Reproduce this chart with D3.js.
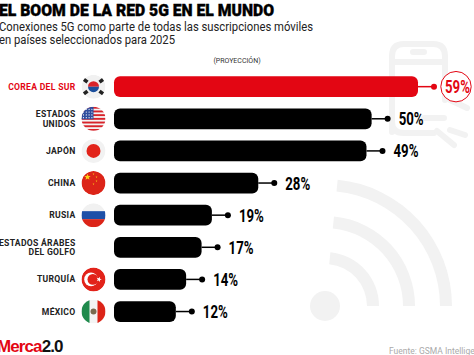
<!DOCTYPE html>
<html>
<head>
<meta charset="utf-8">
<script src="https://cdnjs.cloudflare.com/ajax/libs/d3/7.8.5/d3.min.js"></script>
<style>
  html, body { margin: 0; padding: 0; background: #fff; overflow: hidden; }
  svg { display: block; font-family: Roboto, sans-serif; }
</style>
</head>
<body>
<svg id="chart" width="474" height="355"></svg>
<script>
const categories = ["COREA DEL SUR", "ESTADOS|UNIDOS", "JAPÓN", "CHINA", "RUSIA", "ESTADOS ÁRABES|DEL GOLFO", "TURQUÍA", "MÉXICO"]
const values = [59, 50, 49, 28, 19, 17, 14, 12]
const flags = ["kr", "us", "jp", "cn", "ru", null, "tr", "mx"]

const red = "#e30613"
const width = 474, height = 355
const svg = d3.select("#chart").attr("viewBox", `0 0 ${width} ${height}`)
const defs = svg.append("defs")

const x = d3.scaleLinear().domain([0, 59]).range([114, 418])
const y = d3.scaleBand().domain(categories).range([70.6, 327.6]).paddingInner(0.355).paddingOuter(0.1775)

// watermark: phone
const bg = svg.append("g").attr("fill", "none").attr("stroke", "#f2f2f2").attr("stroke-width", 6).attr("stroke-linecap", "round")
bg.append("path").attr("d", "M392,132V56Q392,44 404,44H433Q445,44 445,56V100")
bg.append("path").attr("d", "M392,62H445M413,52H424M424,118H444M392,122Q392,133 404,133H434")
bg.append("path").attr("d", "M450,100L467,108M450,130L465,135M437,131L454,145")

// watermark: wifi
const wifiC = bg.append("g").attr("transform", "translate(325,306)")
;[48, 84, 121].forEach(r => {
    wifiC.append("path")
        .attr("d", d3.arc()({innerRadius: r - 6, outerRadius: r + 6, startAngle: 0.1, endAngle: Math.PI / 2, cornerRadius: 6}))
        .attr("fill", "#f2f2f2").attr("stroke", "none")
})
wifiC.append("circle").attr("r", 15).attr("fill", "#f2f2f2").attr("stroke", "none")

// header
svg.append("text").attr("x", -1).attr("y", 16).attr("textLength", 275).attr("lengthAdjust", "spacingAndGlyphs")
    .attr("font-size", 16).attr("font-weight", 900).attr("fill", "#000")
    .attr("stroke", "#000").attr("stroke-width", 0.35)
    .text("EL BOOM DE LA RED 5G EN EL MUNDO")
svg.append("text").attr("x", -1).attr("y", 30.5).attr("textLength", 314).attr("lengthAdjust", "spacingAndGlyphs")
    .attr("font-size", 12).attr("fill", "#222").text("Conexiones 5G como parte de todas las suscripciones móviles")
svg.append("text").attr("x", -1).attr("y", 43.5).attr("textLength", 176).attr("lengthAdjust", "spacingAndGlyphs")
    .attr("font-size", 12).attr("fill", "#222").text("en países seleccionados para 2025")
svg.append("text").attr("x", 237).attr("y", 62.5).attr("text-anchor", "middle")
    .attr("font-size", 7).attr("fill", "#333").text("(PROYECCIÓN)")

// category labels
const axis = svg.append("g").attr("transform", "translate(75.5,0)")
    .call(d3.axisLeft(y).tickSize(0).tickPadding(0))
axis.select(".domain").remove()
axis.selectAll("text")
    .attr("font-family", "Roboto, sans-serif").attr("font-size", 8.6).attr("font-weight", 700)
    .attr("letter-spacing", 0.3)
    .attr("fill", (d, i) => i === 0 ? red : "#222")
    .attr("dy", null)
    .each(function(d) {
        const lines = d.split("|")
        const t = d3.select(this).text(null)
        lines.forEach((line, i) => {
            t.append("tspan").attr("x", 0)
                .attr("dy", i === 0 ? (lines.length === 1 ? 3 : -1.6) : 9.4)
                .text(line)
        })
    })

// flags
const flagR = 12
const star = (g, cx, cy, r, fill, rot) => {
    const pts = d3.range(10).map(i => {
        const a = (i * Math.PI / 5) - Math.PI / 2 + (rot || 0)
        const rr = i % 2 ? r * 0.42 : r
        return [cx + rr * Math.cos(a), cy + rr * Math.sin(a)]
    })
    g.append("polygon").attr("points", pts.join(" ")).attr("fill", fill)
}
const rect = (g, a, b, c, d, fill) => g.append("rect").attr("x", a).attr("y", b).attr("width", c).attr("height", d).attr("fill", fill)

const flagDraw = {
    kr(g) {
        g.append("circle").attr("r", flagR).attr("fill", "#f1f1f1")
        g.append("path").attr("d", d3.arc()({innerRadius: 0, outerRadius: 5.5, startAngle: -Math.PI / 2, endAngle: Math.PI / 2})).attr("fill", "#d8232a")
        g.append("path").attr("d", d3.arc()({innerRadius: 0, outerRadius: 5.5, startAngle: Math.PI / 2, endAngle: 3 * Math.PI / 2})).attr("fill", "#1c4f9c")
        ;[[-8, -6, 1], [8, -6, -1], [-8, 6, -1], [8, 6, 1]].forEach(([a, b, s]) => {
            g.append("rect").attr("x", -2.5).attr("y", -1.8).attr("width", 5).attr("height", 3.6)
                .attr("transform", `translate(${a},${b}) rotate(${s * 37})`).attr("fill", "#222")
        })
    },
    us(g) {
        g.append("circle").attr("r", flagR).attr("fill", "#f4f4f4")
        d3.range(7).forEach(i => rect(g, -12, -12 + i * 3.7, 24, 1.9, "#d8232a"))
        rect(g, -12, -12, 12, 12.5, "#2f4d9e")
        d3.range(4).forEach(r => d3.range(4).forEach(c => g.append("circle").attr("cx", -10 + c * 2.8).attr("cy", -9.5 + r * 2.8).attr("r", 0.6).attr("fill", "#fff")))
    },
    jp(g) {
        g.append("circle").attr("r", flagR).attr("fill", "#f2f2f2")
        g.append("circle").attr("r", 7).attr("fill", "#e2231a")
    },
    cn(g) {
        g.append("circle").attr("r", flagR).attr("fill", "#dc2418")
        star(g, -6, -6, 3.4, "#fbd116")
        ;[[0, -9], [3, -6], [3, -2], [0, 1]].forEach(([a, b]) => star(g, a, b, 1, "#fbd116"))
    },
    ru(g) {
        g.append("circle").attr("r", flagR).attr("fill", "#f1f1f1")
        rect(g, -12, -4, 24, 8, "#1d50a8")
        rect(g, -12, 4, 24, 8, "#dc2418")
    },
    tr(g) {
        g.append("circle").attr("r", flagR).attr("fill", "#e2231a")
        g.append("circle").attr("cx", -2.5).attr("r", 6.8).attr("fill", "#fff")
        g.append("circle").attr("cx", -0.6).attr("r", 5.4).attr("fill", "#e2231a")
        star(g, 5.5, 0, 2.8, "#fff", 0.3)
    },
    mx(g) {
        g.append("circle").attr("r", flagR).attr("fill", "#f4f4f4")
        rect(g, -12, -12, 8, 24, "#1f8a4c")
        rect(g, 4, -12, 8, 24, "#dc2418")
        g.append("circle").attr("r", 3).attr("fill", "#7a6a4f")
    }
}
defs.append("clipPath").attr("id", "flagClip").append("circle").attr("r", flagR)
flags.forEach((f, i) => {
    if (!f) return
    const g = svg.append("g")
        .attr("transform", `translate(93.5,${y(categories[i]) + y.bandwidth() / 2})`)
        .attr("clip-path", "url(#flagClip)")
    flagDraw[f](g)
})

// bars
const rows = categories.map((c, i) => ({c, v: values[i], i}))
const col = d => d.i === 0 ? red : "#000"
const cy = d => y(d.c) + y.bandwidth() / 2

svg.selectAll("line.lead").data(rows).enter().append("line").attr("class", "lead")
    .attr("x1", d => x(d.v)).attr("x2", d => x(d.v) + 16)
    .attr("y1", cy).attr("y2", cy)
    .attr("stroke", col).attr("stroke-width", 1.5)
svg.selectAll("circle.dot").data(rows).enter().append("circle").attr("class", "dot")
    .attr("cx", d => x(d.v) + 16).attr("cy", cy).attr("r", 3).attr("fill", col)
svg.selectAll("rect.bar").data(rows).enter().append("rect").attr("class", "bar")
    .attr("x", x(0)).attr("y", d => y(d.c))
    .attr("width", d => x(d.v) - x(0)).attr("height", y.bandwidth())
    .attr("rx", 6).attr("fill", col)

// value labels, squeezed sideways to look condensed
svg.append("circle").attr("cx", x(59) + 38).attr("cy", cy(rows[0])).attr("r", 15.2)
    .attr("fill", "#fff").attr("stroke", red).attr("stroke-width", 1)
svg.selectAll("text.val").data(rows).enter().append("text").attr("class", "val")
    .attr("font-family", "'Liberation Sans Narrow', Roboto, sans-serif")
    .attr("font-size", 18).attr("font-weight", 700).attr("fill", col)
    .text(d => d.v + "%")
    .attr("transform", function(d) {
        const k = 25 / this.getComputedTextLength()
        return `translate(${x(d.v) + 27},${cy(d) + 6.5}) scale(${k},1)`
    })

// footer
const logo = svg.append("text").attr("x", -3).attr("y", 351.5).attr("font-size", 17).attr("font-weight", 700)
    .attr("font-family", "'Liberation Sans', sans-serif").attr("letter-spacing", -0.9)
logo.append("tspan").attr("fill", red).text("Merca")
logo.append("tspan").attr("fill", "#111").text("2.0")
svg.append("text").attr("x", 389).attr("y", 354).attr("font-size", 8.5).attr("fill", "#aaa")
    .text("Fuente: GSMA Intelligence")
</script>
</body>
</html>
